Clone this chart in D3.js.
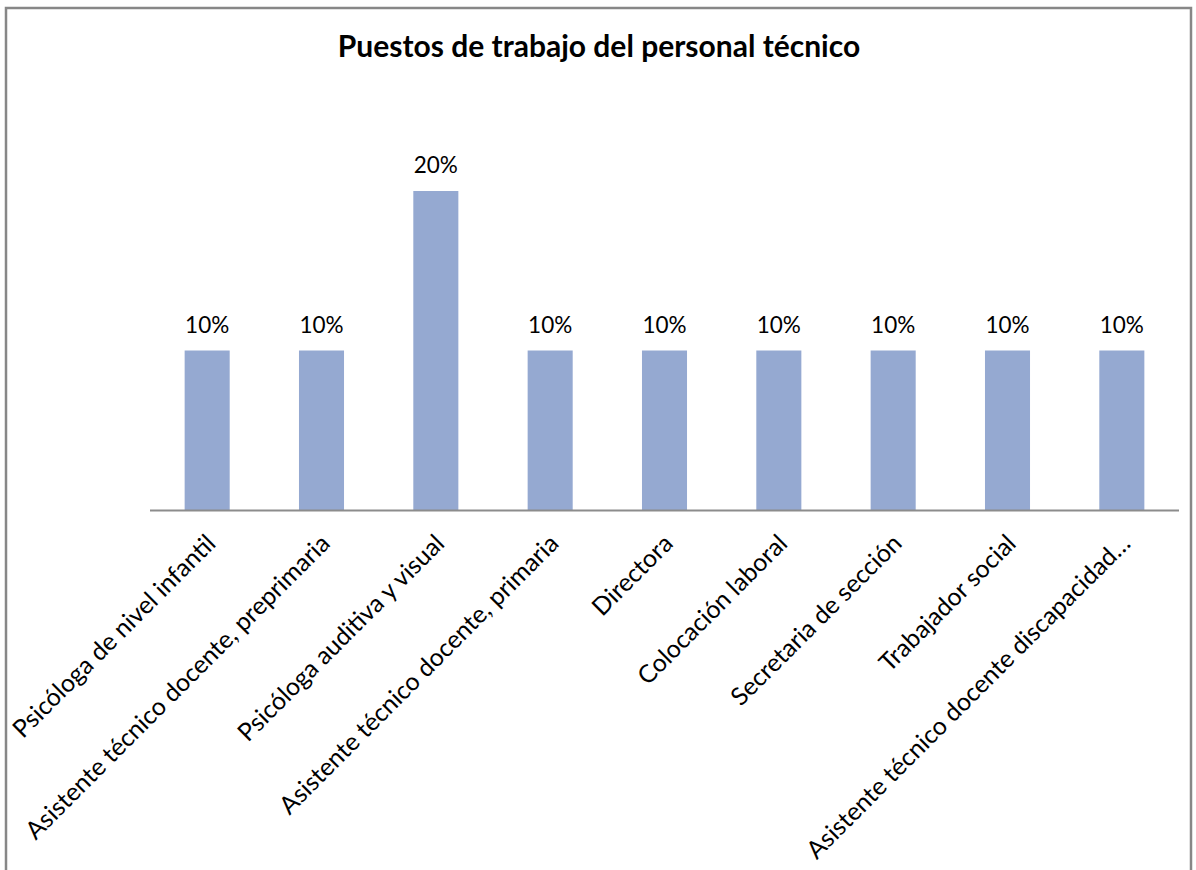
<!DOCTYPE html>
<html>
<head>
<meta charset="utf-8">
<script src="https://cdn.jsdelivr.net/npm/d3@7"></script>
<style>
  html, body { margin: 0; padding: 0; background: #fff; }
  svg { display: block; }
  text { font-family: Lato, "Open Sans", sans-serif; fill: #000; }
</style>
</head>
<body>
<svg id="chart" width="1196" height="870"></svg>
<script>
// Job positions of the technical staff (share of total)
const chartTitle = "Puestos de trabajo del personal técnico";
const categories = [
  "Psicóloga de nivel infantil",
  "Asistente técnico docente, preprimaria",
  "Psicóloga auditiva y visual",
  "Asistente técnico docente, primaria",
  "Directora",
  "Colocación laboral",
  "Secretaria de sección",
  "Trabajador social",
  "Asistente técnico docente discapacidad…"
];
const shares = [0.10, 0.10, 0.20, 0.10, 0.10, 0.10, 0.10, 0.10, 0.10];

const svg = d3.select("#chart");

// outer chart frame (open at the bottom edge of the page)
svg.append("rect")
  .attr("x", 6).attr("y", 8)
  .attr("width", 1185).attr("height", 900)
  .attr("fill", "#fff")
  .attr("stroke", "#878787").attr("stroke-width", 2.5);

const plot = { left: 150, right: 1179, baseline: 510, top20: 191 };

const x = d3.scaleBand()
  .domain(categories)
  .range([plot.left, plot.right])
  .paddingInner(0.606)
  .paddingOuter(0.303);

const y = d3.scaleLinear()
  .domain([0, 0.2])
  .range([plot.baseline, plot.top20]);

// title
svg.append("text")
  .attr("x", 599).attr("y", 57)
  .attr("text-anchor", "middle")
  .style("font-weight", "bold")
  .style("font-size", "30px")
  .text(chartTitle);

// bars
svg.append("g").selectAll("rect")
  .data(categories)
  .join("rect")
  .attr("x", d => x(d))
  .attr("width", x.bandwidth())
  .attr("y", (d, i) => y(shares[i]))
  .attr("height", (d, i) => y(0) - y(shares[i]))
  .attr("fill", "#95a9d1");

// value labels
const pct = d3.format(".0%");
svg.append("g").selectAll("text")
  .data(categories)
  .join("text")
  .attr("x", d => x(d) + x.bandwidth() / 2)
  .attr("y", (d, i) => y(shares[i]) - 18)
  .attr("text-anchor", "middle")
  .style("font-size", "22.5px")
  .text((d, i) => pct(shares[i]));

// category axis
const xAxis = d3.axisBottom(x).tickSize(0).tickSizeOuter(0);
const gx = svg.append("g")
  .attr("transform", `translate(0,${plot.baseline})`)
  .call(xAxis);
gx.select(".domain")
  .attr("stroke", "#8c8c8c")
  .attr("stroke-width", 2)
  .attr("d", `M${plot.left},0.5H${plot.right}`);
gx.selectAll(".tick text")
  .attr("x", 0).attr("y", 0).attr("dy", 0)
  .attr("text-anchor", "end")
  .attr("transform", "translate(10,35) rotate(-45)")
  .style("font-family", "Lato, 'Open Sans', sans-serif")
  .style("font-size", "24.8px")
  .attr("fill", "#000");
</script>
</body>
</html>
